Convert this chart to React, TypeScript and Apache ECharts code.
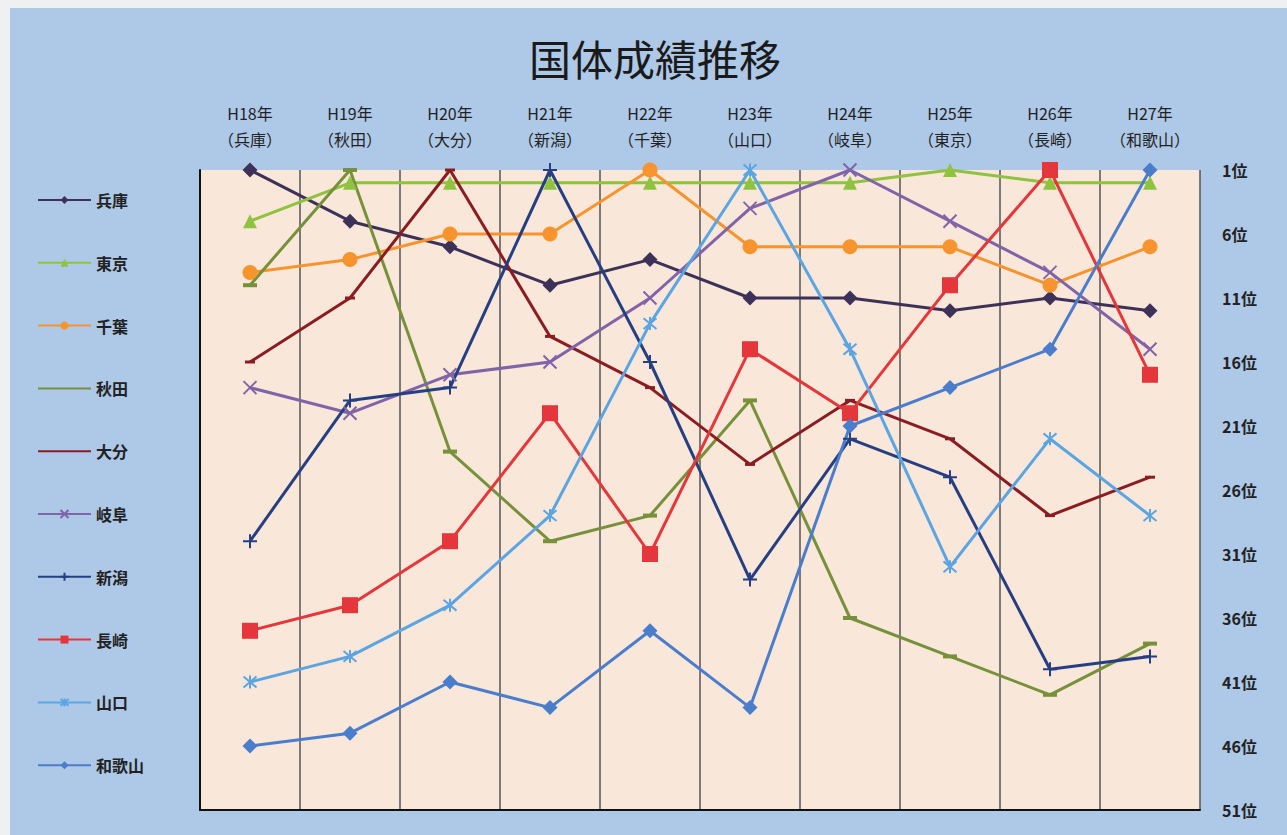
import React, { useEffect, useRef } from "react";
import * as echarts from "echarts";

const years = ["H18年", "H19年", "H20年", "H21年", "H22年", "H23年", "H24年", "H25年", "H26年", "H27年"];
const hosts = ["兵庫", "秋田", "大分", "新潟", "千葉", "山口", "岐阜", "東京", "長崎", "和歌山"];
const yTicks = [1, 6, 11, 16, 21, 26, 31, 36, 41, 46, 51];

const hyogo = [1, 5, 7, 10, 8, 11, 11, 12, 11, 12];
const tokyo = [5, 2, 2, 2, 2, 2, 2, 1, 2, 2];
const chiba = [9, 8, 6, 6, 1, 7, 7, 7, 10, 7];
const akita = [10, 1, 23, 30, 28, 19, 36, 39, 42, 38];
const oita = [16, 11, 1, 14, 18, 24, 19, 22, 28, 25];
const gifu = [18, 20, 17, 16, 11, 4, 1, 5, 9, 15];
const niigata = [30, 19, 18, 1, 16, 33, 22, 25, 40, 39];
const nagasaki = [37, 35, 30, 20, 31, 15, 20, 10, 1, 17];
const yamaguchi = [41, 39, 35, 28, 13, 1, 15, 32, 22, 28];
const wakayama = [46, 45, 41, 43, 37, 43, 21, 18, 15, 1];

const X_PATH = "path://M0,0L10,10M0,10L10,0";
const PLUS_PATH = "path://M5,0L5,10M0,5L10,5";
const STAR_PATH = "path://M0,0L10,10M0,10L10,0M5,-1L5,11";

const seriesDefs = [
  { name: "兵庫", data: hyogo, color: "#3e3158", symbol: "diamond", size: 15, stroke: false, legendMark: true },
  { name: "東京", data: tokyo, color: "#8fc23f", symbol: "triangle", size: 14, stroke: false, legendMark: true },
  { name: "千葉", data: chiba, color: "#f7942e", symbol: "circle", size: 15, stroke: false, legendMark: true },
  { name: "秋田", data: akita, color: "#76913a", symbol: "rect", size: [14, 4], stroke: false, legendMark: false },
  { name: "大分", data: oita, color: "#8b1c22", symbol: "rect", size: [10, 3], stroke: false, legendMark: false },
  { name: "岐阜", data: gifu, color: "#8064a8", symbol: X_PATH, size: 13, stroke: true, legendMark: true },
  { name: "新潟", data: niigata, color: "#263f82", symbol: PLUS_PATH, size: 14, stroke: true, legendMark: true },
  { name: "長崎", data: nagasaki, color: "#e5363b", symbol: "rect", size: 16, stroke: false, legendMark: true },
  { name: "山口", data: yamaguchi, color: "#5aa5e2", symbol: STAR_PATH, size: 13, stroke: true, legendMark: true },
  { name: "和歌山", data: wakayama, color: "#4a7dcb", symbol: "diamond", size: 15, stroke: false, legendMark: true },
];

const FONT = "'Noto Sans CJK JP', 'Noto Sans', sans-serif";

export default function App() {
  const ref = useRef<HTMLDivElement>(null);
  useEffect(() => {
    document.body.style.margin = "0";
    const chart = echarts.init(ref.current!, null, { renderer: "svg" });
    const categories = years.map((y, i) => `${y}\n（${hosts[i]}）`);
    chart.setOption({
      animation: false,
      backgroundColor: "#eef0f1",
      textStyle: { fontFamily: FONT },
      graphic: [
        {
          type: "rect",
          z: -10,
          silent: true,
          shape: { x: 10, y: 8, width: 1287, height: 835 },
          style: { fill: "#aec8e7" },
        },
      ],
      title: {
        text: "国体成績推移",
        left: 650,
        top: 31,
        textAlign: "center",
        textStyle: { fontSize: 42, fontWeight: "normal", color: "#1a1a1a", fontFamily: FONT },
      },
      legend: {
        orient: "vertical",
        left: 32,
        top: 187,
        itemWidth: 53,
        itemHeight: 10,
        itemGap: 46.8,
        textStyle: { fontSize: 16, fontWeight: "bold", color: "#222", fontFamily: FONT, lineHeight: 16 },
        data: seriesDefs.map((s) =>
          s.legendMark ? { name: s.name } : { name: s.name, itemStyle: { opacity: 0 } }
        ),
      },
      grid: {
        left: 200,
        right: 87,
        top: 170,
        bottom: 25,
        show: true,
        backgroundColor: "#f9e7da",
        borderWidth: 0,
      },
      xAxis: [
        {
          type: "category",
          position: "top",
          data: categories,
          boundaryGap: true,
          axisLine: { show: false },
          axisTick: { show: false },
          axisLabel: {
            margin: 18,
            fontSize: 16,
            lineHeight: 26,
            color: "#222",
            fontFamily: FONT,
            interval: 0,
          },
          splitLine: { show: true, interval: 0, lineStyle: { color: "#555", width: 1.5 } },
        },
        {
          type: "category",
          position: "bottom",
          data: categories,
          axisLine: { show: true, lineStyle: { color: "#111", width: 2 } },
          axisTick: { show: false },
          axisLabel: { show: false },
        },
      ],
      yAxis: [
        {
          type: "value",
          position: "right",
          inverse: true,
          min: 1,
          max: 51,
          interval: 5,
          axisLine: { show: false },
          axisTick: { show: false },
          splitLine: { show: false },
          axisLabel: {
            margin: 22,
            fontSize: 16,
            fontWeight: "bold",
            color: "#222",
            fontFamily: FONT,
            formatter: (v: number) => (yTicks.includes(v) ? `${v}位` : ""),
          },
        },
        {
          type: "value",
          position: "left",
          inverse: true,
          min: 1,
          max: 51,
          interval: 5,
          axisLine: { show: true, lineStyle: { color: "#111", width: 2 } },
          axisTick: { show: false },
          splitLine: { show: false },
          axisLabel: { show: false },
        },
      ],
      series: seriesDefs.map((s) => ({
        name: s.name,
        type: "line",
        data: s.data,
        xAxisIndex: 0,
        yAxisIndex: 0,
        symbol: s.symbol,
        symbolSize: s.size,
        showAllSymbol: true,
        lineStyle: { color: s.color, width: 3 },
        itemStyle: s.stroke
          ? { color: "none", borderColor: s.color, borderWidth: 2 }
          : { color: s.color, borderColor: s.color, borderWidth: 0 },
        emphasis: { disabled: true },
      })),
    });
    return () => chart.dispose();
  }, []);
  return <div ref={ref} style={{ width: 1287, height: 835 }} />;
}
